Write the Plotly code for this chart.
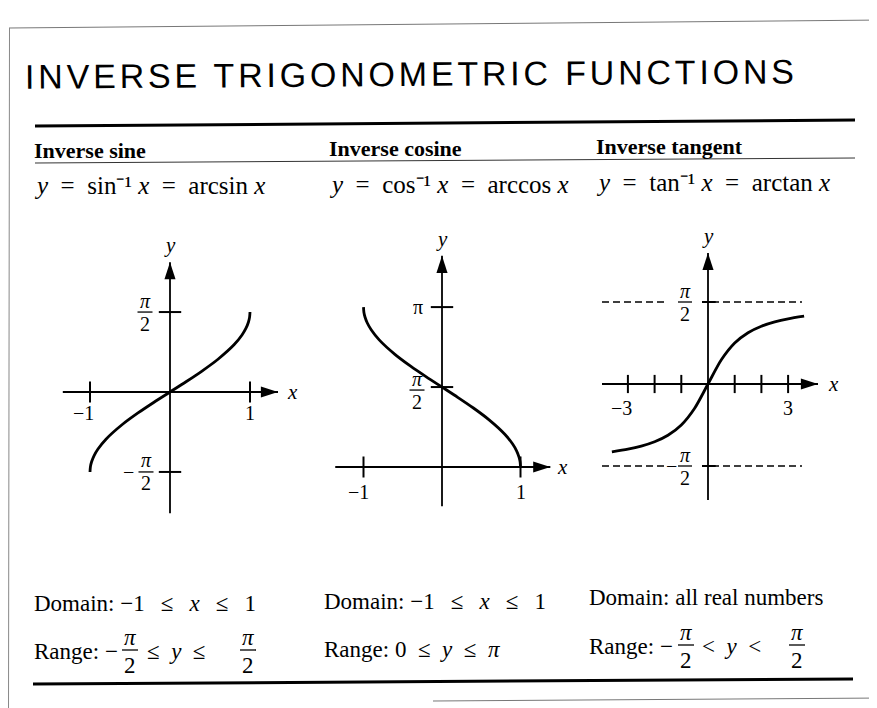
import plotly.graph_objects as go

W, H = 877, 708
PI = 3.14159

# ---------------- data ----------------
ASIN_X = [-1, -0.995, -0.98, -0.95, -0.9, -0.8, -0.6, -0.4, -0.2, 0, 0.2, 0.4, 0.6, 0.8, 0.9, 0.95, 0.98, 0.995, 1]
ASIN_Y = [-1.571, -1.471, -1.371, -1.253, -1.120, -0.927, -0.644, -0.412, -0.201, 0,
          0.201, 0.412, 0.644, 0.927, 1.120, 1.253, 1.371, 1.471, 1.571]
ACOS_X = [-1, -0.995, -0.98, -0.95, -0.9, -0.8, -0.6, -0.4, -0.2, 0, 0.2, 0.4, 0.6, 0.8, 0.9, 0.95, 0.98, 0.995, 1]
ACOS_Y = [3.142, 3.042, 2.942, 2.824, 2.691, 2.498, 2.214, 1.982, 1.772, 1.571,
          1.369, 1.159, 0.927, 0.644, 0.451, 0.318, 0.200, 0.100, 0]
ATAN_X = [-3.6, -3, -2.5, -2, -1.5, -1, -0.5, 0, 0.5, 1, 1.5, 2, 2.5, 3, 3.6]
ATAN_Y = [-1.300, -1.249, -1.190, -1.107, -0.983, -0.785, -0.464, 0,
          0.464, 0.785, 0.983, 1.107, 1.190, 1.249, 1.300]

SIN_XTICKS = [-1, 1]
SIN_XLABELS = ["\u22121", "1"]
SIN_YTICKS = [PI / 2, -PI / 2]
COS_XTICKS = [-1, 1]
COS_XLABELS = ["\u22121", "1"]
COS_YTICKS = [PI, PI / 2]
TAN_XTICKS = [-3, -2, -1, 1, 2, 3]
TAN_XLABELED = [-3, 3]
TAN_XLABELS = ["\u22123", "3"]
TAN_YTICKS = [PI / 2, -PI / 2]
ASYMPTOTES = [PI / 2, -PI / 2]

# axis extents (data units) for the drawn arrows
P1 = dict(xmin=-1.34, xmax=1.35, ymin=-2.38, ymax=2.55)
P2 = dict(xmin=-1.36, xmax=1.38, ymin=-0.77, ymax=4.15)
P3 = dict(xmin=-3.97, xmax=4.12, ymin=-2.22, ymax=2.51)
ASYM_X = [-3.97, 3.52]

TITLE = "INVERSE TRIGONOMETRIC FUNCTIONS"
HEADERS = ["Inverse sine", "Inverse cosine", "Inverse tangent"]
G = "\u2002\u2009"          # wide gap around relations (domain row)
E = "\u2002"                # en gap
SUP = "\u207b\u00b9"        # superscript -1
EQUATIONS = [
    f"<i>y</i>{E}={E}sin{SUP} <i>x</i>{E}={E}arcsin <i>x</i>",
    f"<i>y</i>{E}={E}cos{SUP} <i>x</i>{E}={E}arccos <i>x</i>",
    f"<i>y</i>{E}={E}tan{SUP} <i>x</i>{E}={E}arctan <i>x</i>",
]
DOMAINS = [
    f"Domain: \u22121{G}\u2264{G}<i>x</i>{G}\u2264{G}1",
    f"Domain: \u22121{G}\u2264{G}<i>x</i>{G}\u2264{G}1",
    "Domain: all real numbers",
]
RANGE2 = f"Range: 0{E}\u2264{E}<i>y</i>{E}\u2264{E}<i>\u03c0</i>"

SERIF = "Liberation Serif"
SANS = "Liberation Sans"
BLACK = "black"

fig = go.Figure()
annotations = []
shapes = []


def px(x):
    return x / W


def py(y):
    return 1 - y / H


def place(ox, oy, sx, sy, x0, x1, y0, y1):
    xr = [(x0 - ox) / sx, (x1 - ox) / sx]
    yr = [(oy - y1) / sy, (oy - y0) / sy]
    return dict(domain=[x0 / W, x1 / W], range=xr), dict(domain=[1 - y1 / H, 1 - y0 / H], range=yr)


ax1x, ax1y = place(162, 384, 80.0, 50.9, 30, 297, 215, 525)
ax2x, ax2y = place(434, 459, 78.5, 50.9, 302, 567, 215, 525)
ax3x, ax3y = place(700, 376, 26.7, 52.2, 572, 860, 215, 525)

panels = [
    ("x", "y", P1, ASIN_X, ASIN_Y),
    ("x2", "y2", P2, ACOS_X, ACOS_Y),
    ("x3", "y3", P3, ATAN_X, ATAN_Y),
]

# dashed asymptotes
for a in ASYMPTOTES:
    fig.add_trace(go.Scatter(x=ASYM_X, y=[a, a], mode="lines", xaxis="x3", yaxis="y3",
                             line=dict(color=BLACK, width=1.4, dash="7px,4px"),
                             hoverinfo="skip", showlegend=False))

# axes: lines plus arrow markers at the tips
for xa, ya, P, cx, cy in panels:
    for xs, ys in [([P["xmin"], P["xmax"]], [0, 0]), ([0, 0], [P["ymin"], P["ymax"]])]:
        fig.add_trace(go.Scatter(x=xs, y=ys, mode="lines", xaxis=xa, yaxis=ya,
                                 line=dict(color=BLACK, width=1.8),
                                 hoverinfo="skip", showlegend=False))
    fig.add_trace(go.Scatter(x=[P["xmax"], 0], y=[0, P["ymax"]], mode="markers", xaxis=xa, yaxis=ya,
                             marker=dict(symbol="arrow", size=18, angle=[90, 0],
                                         color=BLACK, line=dict(width=0)),
                             hoverinfo="skip", showlegend=False))

# curves
for xa, ya, P, cx, cy in panels:
    fig.add_trace(go.Scatter(x=cx, y=cy, mode="lines", xaxis=xa, yaxis=ya,
                             line=dict(color=BLACK, width=2.8, shape="spline", smoothing=0.8),
                             hoverinfo="skip", showlegend=False))


def ticks(xa, ya, xs, ys, sym, size):
    fig.add_trace(go.Scatter(x=xs, y=ys, mode="markers", xaxis=xa, yaxis=ya,
                             marker=dict(symbol=sym, size=size, color=BLACK,
                                         line=dict(width=2, color=BLACK)),
                             hoverinfo="skip", showlegend=False))


ticks("x", "y", SIN_XTICKS, [0] * len(SIN_XTICKS), "line-ns", 15)
ticks("x", "y", [0] * len(SIN_YTICKS), SIN_YTICKS, "line-ew", 16)
ticks("x2", "y2", COS_XTICKS, [0] * len(COS_XTICKS), "line-ns", 15)
ticks("x2", "y2", [0] * len(COS_YTICKS), COS_YTICKS, "line-ew", 16)
ticks("x3", "y3", TAN_XTICKS, [0] * len(TAN_XTICKS), "line-ns", 13)
ticks("x3", "y3", [0] * len(TAN_YTICKS), TAN_YTICKS, "line-ew", 11)

TICKFONT = dict(family=SERIF, size=20, color=BLACK)
FRACFONT = dict(family=SERIF, size=20, color=BLACK)


def label(xa, ya, x, y, text, xshift=0, yshift=0, font=TICKFONT):
    annotations.append(dict(x=x, y=y, xref=xa, yref=ya, xshift=xshift, yshift=yshift,
                            text=text, showarrow=False, font=font, borderpad=0))


for xa, ya, P, xs in [("x", "y", P1, 14), ("x2", "y2", P2, 12), ("x3", "y3", P3, 15)]:
    label(xa, ya, 0, P["ymax"], "<i>y</i>", 0, 17, dict(family=SERIF, size=21, color=BLACK))
    label(xa, ya, P["xmax"], 0, "<i>x</i>", xs, 0, dict(family=SERIF, size=21, color=BLACK))


def frac_data(xa, ya, x, y, xshift, bar=0, num=11.5, den=-11.5, barw=15):
    label(xa, ya, x, y, "<i>\u03c0</i>", xshift, bar + num, FRACFONT)
    label(xa, ya, x, y, "2", xshift, bar + den, FRACFONT)
    shapes.append(dict(type="line", xref=xa, yref=ya, xsizemode="pixel", ysizemode="pixel",
                       xanchor=x, yanchor=y, x0=xshift - barw / 2, x1=xshift + barw / 2,
                       y0=bar, y1=bar, line=dict(color=BLACK, width=1.3), layer="above"))


# panel 1 labels
for v, t in zip(SIN_XTICKS, SIN_XLABELS):
    label("x", "y", v, 0, t, -7 if v < 0 else 0, -21)
frac_data("x", "y", 0, SIN_YTICKS[0], -25)
frac_data("x", "y", 0, SIN_YTICKS[1], -24)
label("x", "y", 0, SIN_YTICKS[1], "\u2212", -42, 0)

# panel 2 labels
for v, t in zip(COS_XTICKS, COS_XLABELS):
    label("x2", "y2", v, 0, t, -5 if v < 0 else 0, -25)
label("x2", "y2", 0, COS_YTICKS[0], "\u03c0", -24, 0)
frac_data("x2", "y2", 0, COS_YTICKS[1], -25, bar=-3)

# panel 3 labels
for v, t in zip(TAN_XLABELED, TAN_XLABELS):
    label("x3", "y3", v, 0, t, -6 if v < 0 else 0, -24)
for a in TAN_YTICKS:
    shapes.append(dict(type="rect", xref="x3", yref="y3", xsizemode="pixel", ysizemode="pixel",
                       xanchor=0, yanchor=a, x0=-41, x1=-6, y0=-3, y1=3,
                       fillcolor="white", line=dict(width=0), layer="above"))
frac_data("x3", "y3", 0, TAN_YTICKS[0], -23, barw=14)
frac_data("x3", "y3", 0, TAN_YTICKS[1], -23, barw=14)
label("x3", "y3", 0, TAN_YTICKS[1], "\u2212", -37, 0)


# ---------------- page text ----------------
def ptext(x, y, text, size, family=SERIF, xanchor="left", **kw):
    annotations.append(dict(x=px(x), y=py(y), xref="paper", yref="paper", text=text,
                            showarrow=False, xanchor=xanchor, yanchor="middle", borderpad=0,
                            font=dict(family=family, size=size, color=BLACK), **kw))


def pline(x0, y0, x1, y1, width, color=BLACK):
    shapes.append(dict(type="line", xref="paper", yref="paper", x0=px(x0), y0=py(y0),
                       x1=px(x1), y1=py(y1), line=dict(color=color, width=width)))


ptext(403, 66, f'<span style="letter-spacing:3.8px">{TITLE}</span>', 34, family=SANS,
      xanchor="center", textangle=-0.4)

pline(1, 20, 877, 12, 1, "#777")
pline(1.5, 20, 0.5, 708, 1, "#888")
pline(27, 118, 847, 112, 3)
pline(27, 155, 847, 150, 1, "#333")
pline(25, 676, 845, 671, 3)
pline(425, 693, 877, 690, 1, "#777")

for x, y, t in zip([25, 320, 587], [142, 140, 138], HEADERS):
    ptext(x, y, f"<b>{t}</b>", 22)
for x, y, t in zip([25, 320, 587], [177, 176, 174], EQUATIONS):
    ptext(x, y, t, 25)
for x, y, t in zip([25, 315, 580], [595, 593, 589], DOMAINS):
    ptext(x, y, t, 23)


def frac_page(cx, ty, size=23):
    ptext(cx, ty - 14, "<i>\u03c0</i>", size, xanchor="center")
    ptext(cx, ty + 14, "2", size, xanchor="center")
    shapes.append(dict(type="line", xref="paper", yref="paper", x0=px(cx - 8), x1=px(cx + 8),
                       y0=py(ty - 1), y1=py(ty - 1), line=dict(color=BLACK, width=1.3)))


# Range row, column 1
ptext(25, 643, "Range: \u2212", 23)
frac_page(122, 643)
ptext(138, 643, f"\u2264{E}<i>y</i>{E}\u2264", 23)
frac_page(240, 643)
# column 2
ptext(315, 641, RANGE2, 23)
# column 3
ptext(580, 638, "Range: \u2212", 23)
frac_page(678, 638)
ptext(693, 638, f"&lt;{E}<i>y</i>{E}&lt;", 23)
frac_page(789, 638)

axis_common = dict(visible=False, fixedrange=True, showgrid=False, zeroline=False)
fig.update_layout(
    width=W, height=H, autosize=False,
    margin=dict(l=0, r=0, t=0, b=0),
    paper_bgcolor="white", plot_bgcolor="white",
    showlegend=False,
    xaxis=dict(**ax1x, anchor="y", **axis_common),
    yaxis=dict(**ax1y, anchor="x", **axis_common),
    xaxis2=dict(**ax2x, anchor="y2", **axis_common),
    yaxis2=dict(**ax2y, anchor="x2", **axis_common),
    xaxis3=dict(**ax3x, anchor="y3", **axis_common),
    yaxis3=dict(**ax3y, anchor="x3", **axis_common),
    annotations=annotations,
    shapes=shapes,
)

fig.write_html("out.html")
